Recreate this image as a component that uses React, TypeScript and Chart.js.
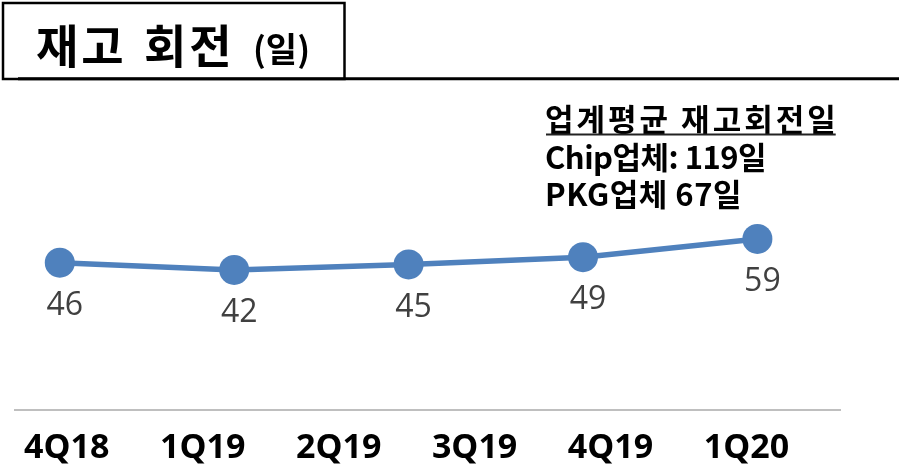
import React, { useEffect, useRef } from "react";
import { Chart, registerables } from "chart.js";

Chart.register(...registerables);

// ---- data ----
const quarterLabels = ["4Q18", "1Q19", "2Q19", "3Q19", "4Q19", "1Q20"];
const inventoryDays = [46, 42, 45, 49, 59];
const titleWords = ["재고", "회전"];
const titleUnit = "(일)";
const noteLines = ["업계평균 재고회전일", "Chip업체: 119일", "PKG업체 67일"];

// ---- style ----
const BLUE = "#4f81bd";
const LATIN = "'Open Sans', 'Noto Sans CJK KR', sans-serif";
const KR = "'Noto Sans CJK KR', 'Open Sans', sans-serif";

const decorPlugin = {
  id: "decor",
  afterDraw(chart: any) {
    const ctx = chart.ctx as CanvasRenderingContext2D;
    ctx.save();
    ctx.strokeStyle = "#000";
    ctx.lineWidth = 2.5;
    ctx.strokeRect(3, 3, 341.5, 76);
    ctx.lineWidth = 3;
    ctx.beginPath();
    ctx.moveTo(18, 78.8);
    ctx.lineTo(899, 78.8);
    ctx.stroke();

    ctx.fillStyle = "#000";
    ctx.textAlign = "left";
    ctx.textBaseline = "alphabetic";
    ctx.font = `bold 46px ${KR}`;
    (ctx as any).letterSpacing = "3px";
    ctx.fillText(titleWords[0], 36, 63);
    ctx.fillText(titleWords[1], 144, 63);
    (ctx as any).letterSpacing = "0px";
    ctx.font = `bold 34px ${KR}`;
    ctx.fillText(titleUnit, 253, 62);

    ctx.font = `bold 31px ${KR}`;
    const noteX = 545;
    const baselines = [131, 168.5, 206];
    const spacings = ["3px", "-0.5px", "0.5px"];
    let w0 = 0;
    noteLines.forEach((t, i) => {
      (ctx as any).letterSpacing = spacings[i];
      ctx.fillText(t, noteX, baselines[i]);
      if (i === 0) w0 = ctx.measureText(t).width;
    });
    ctx.fillStyle = "#222";
    ctx.fillRect(noteX + 1, 133.5, w0 - 4, 2);
    ctx.restore();
  },
};

const valueLabelPlugin = {
  id: "valueLabels",
  afterDatasetsDraw(chart: any) {
    const ctx = chart.ctx as CanvasRenderingContext2D;
    const meta = chart.getDatasetMeta(0);
    ctx.save();
    ctx.font = `32px ${LATIN}`;
    ctx.fillStyle = "#404040";
    ctx.textAlign = "center";
    ctx.textBaseline = "middle";
    meta.data.forEach((pt: any, i: number) => {
      ctx.fillText(String(inventoryDays[i]), pt.x + 5, pt.y + 43);
    });
    ctx.restore();
  },
};

export default function App() {
  const canvasRef = useRef<HTMLCanvasElement | null>(null);

  useEffect(() => {
    document.body.style.margin = "0";
    const canvas = canvasRef.current;
    if (!canvas) return;
    const chart = new Chart(canvas, {
      type: "line",
      data: {
        datasets: [
          {
            data: inventoryDays.map((v, i) => ({ x: i, y: v })),
            borderColor: BLUE,
            backgroundColor: BLUE,
            borderWidth: 5.5,
            pointRadius: 15,
            pointHoverRadius: 15,
            pointBackgroundColor: BLUE,
            pointBorderWidth: 0,
            tension: 0,
            clip: false as any,
            xAxisID: "x",
            yAxisID: "y",
          },
        ],
      },
      options: {
        responsive: false,
        animation: false,
        events: [],
        layout: { padding: { top: 90, left: 11, right: 59, bottom: -19.4 } },
        plugins: {
          legend: { display: false },
          tooltip: { enabled: false },
          title: { display: false },
        },
        scales: {
          x: { type: "linear", display: false, bounds: "data", min: -0.2568, max: 4.4736 },
          y: { type: "linear", display: false, bounds: "data", min: -34.76, max: 140.7 },
          q: {
            type: "linear",
            axis: "x",
            position: "bottom",
            bounds: "data",
            min: -0.381,
            max: 5.688,
            afterBuildTicks: (axis: any) => {
              axis.ticks = quarterLabels.map((_, i) => ({ value: i }));
            },
            afterFit: (axis: any) => {
              axis.paddingLeft = 0;
              axis.paddingRight = 0;
            },
            ticks: {
              callback: (_v: any, idx: number) => quarterLabels[idx] ?? "",
              font: { family: LATIN, size: 34, weight: "bold", lineHeight: 2.28 },
              color: "#000",
              padding: 0,
              maxRotation: 0,
              autoSkip: false,
            },
            grid: { display: false, drawTicks: false },
            border: { display: true, color: "#bfbfbf", width: 2 },
          } as any,
        },
      },
      plugins: [valueLabelPlugin, decorPlugin],
    });
    return () => chart.destroy();
  }, []);

  return (
    <canvas
      ref={canvasRef}
      width={899}
      height={468}
      style={{ display: "block", width: 899, height: 468 }}
    />
  );
}
